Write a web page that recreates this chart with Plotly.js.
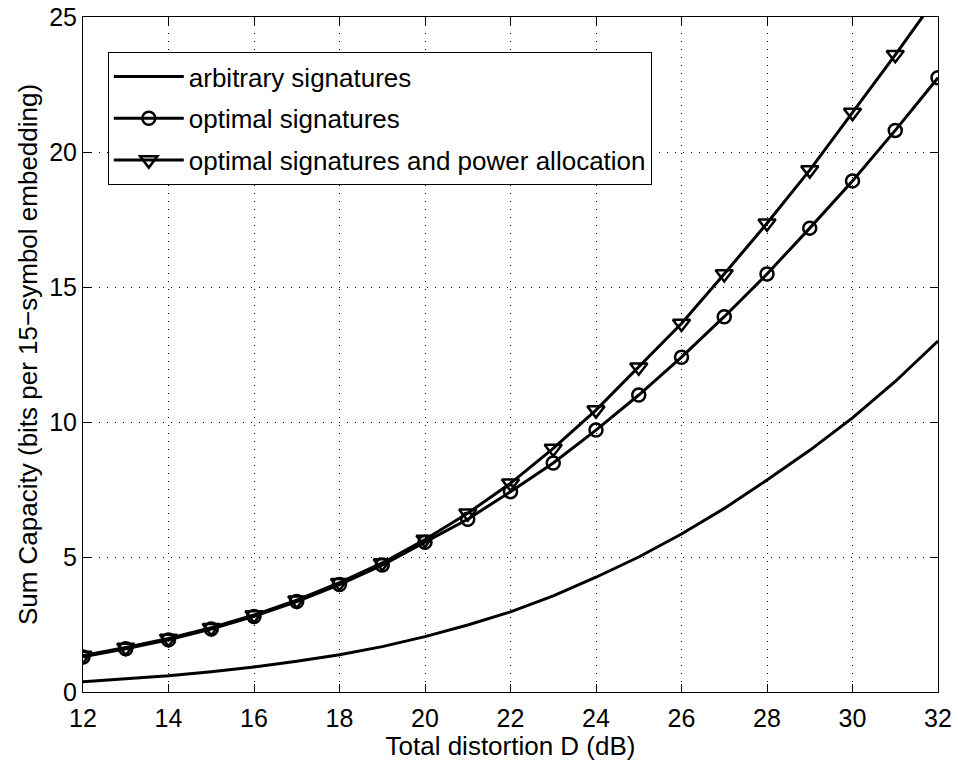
<!DOCTYPE html>
<html>
<head>
<meta charset="utf-8">
<script src="https://cdn.plot.ly/plotly-3.0.1.min.js"></script>
<style>html,body{margin:0;padding:0;background:#fff;}#chart{width:958px;height:761px;}</style>
</head>
<body>
<div id="chart"></div>
<script>
const distortion = [12,13,14,15,16,17,18,19,20,21,22,23,24,25,26,27,28,29,30,31,32];
const arbitrary = [0.38,0.48,0.6,0.75,0.93,1.14,1.38,1.68,2.05,2.48,2.97,3.56,4.25,5.0,5.85,6.8,7.85,8.95,10.15,11.5,13.0];
const optimalSig = [1.3,1.6,1.93,2.33,2.8,3.35,3.98,4.7,5.55,6.4,7.42,8.48,9.7,11.0,12.4,13.9,15.48,17.18,18.93,20.8,22.75];
const optimalSigPower = [1.35,1.65,1.98,2.38,2.85,3.4,4.05,4.78,5.65,6.62,7.73,9.02,10.44,12.03,13.65,15.48,17.36,19.33,21.46,23.6,25.8];
const names = ['arbitrary signatures','optimal signatures','optimal signatures and power allocation'];
const xTicks = [12,14,16,18,20,22,24,26,28,30,32];
const yTicks = [0,5,10,15,20,25];

const FONT = '"Liberation Sans", Arial, Helvetica, sans-serif';
const traces = [
  {x: distortion, y: arbitrary, name: names[0], mode: 'lines', legendgroup: 'a',
   line: {color: '#000', width: 3}},
  {x: distortion, y: optimalSig, name: names[1], mode: 'lines+markers', legendgroup: 'b',
   line: {color: '#000', width: 3},
   marker: {symbol: 'circle-open', size: 13, color: '#000', line: {width: 2.5, color: '#000'}}},
  {x: distortion, y: optimalSigPower, name: names[2], mode: 'lines+markers', legendgroup: 'c',
   line: {color: '#000', width: 3},
   marker: {symbol: 'triangle-down-open', size: 15, color: '#000', line: {width: 2.5, color: '#000'}}}
];
const axisCommon = {
  showline: true, linecolor: '#000', linewidth: 1, mirror: 'allticks',
  ticks: 'inside', ticklen: 8, tickcolor: '#000', tickwidth: 1,
  showgrid: true, gridcolor: '#000', griddash: '1px,7px', gridwidth: 1,
  zeroline: false, tickfont: {family: FONT, size: 25, color: '#000'}
};
const layout = {
  width: 958, height: 761,
  margin: {l: 83, r: 20, t: 17, b: 69},
  paper_bgcolor: '#fff', plot_bgcolor: '#fff',
  font: {family: FONT, color: '#000'},
  showlegend: true,
  legend: {x: 0.029, y: 0.948, xanchor: 'left', yanchor: 'top',
    bordercolor: '#000', borderwidth: 1, bgcolor: '#fff',
    font: {family: FONT, size: 26, color: '#000'},
    itemwidth: 70, tracegroupgap: 5, traceorder: 'grouped'},
  xaxis: Object.assign({}, axisCommon, {
    range: [12, 32], tickmode: 'array', tickvals: xTicks, ticklabelstandoff: 4,
    title: {text: 'Total distortion D (dB)', font: {family: FONT, size: 26, color: '#000'}, standoff: 0}
  }),
  yaxis: Object.assign({}, axisCommon, {
    range: [0, 25], tickmode: 'array', tickvals: yTicks,
    title: {text: 'Sum Capacity (bits per 15\u2212symbol embedding)', font: {family: FONT, size: 26, color: '#000'}, standoff: 4}
  })
};
Plotly.newPlot('chart', traces, layout, {displayModeBar: false, staticPlot: true});
</script>
</body>
</html>
